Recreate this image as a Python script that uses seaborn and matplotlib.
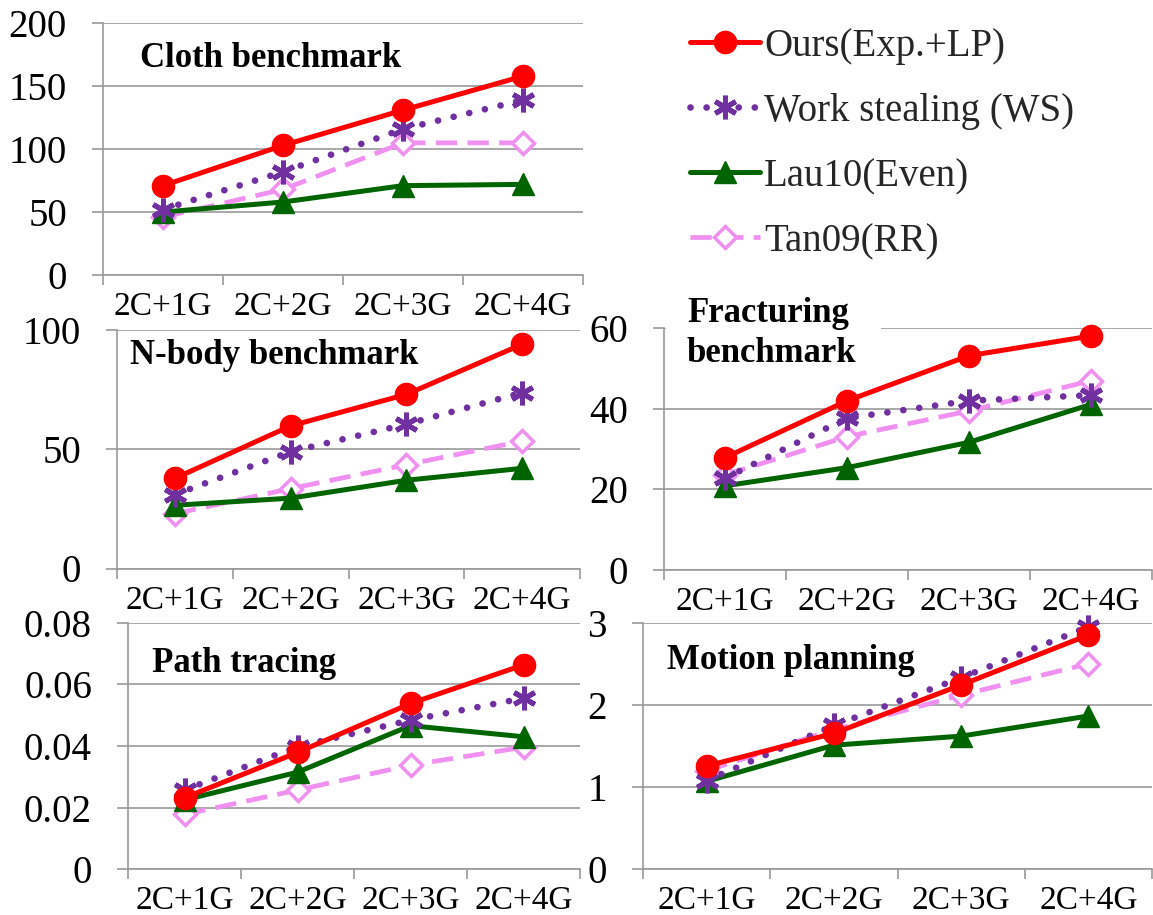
import numpy as np
import pandas as pd
import matplotlib
matplotlib.use("Agg")
import matplotlib.pyplot as plt
import seaborn as sns

# ---------------- data ----------------
configs = ["2C+1G", "2C+2G", "2C+3G", "2C+4G"]
methods = ["Ours(Exp.+LP)", "Work stealing (WS)", "Lau10(Even)", "Tan09(RR)"]

cloth_ours = [71, 103, 131, 158]
cloth_ws = [52, 82, 116, 139]
cloth_lau = [50, 58, 71, 72]
cloth_tan = [46, 68, 105, 105]

nbody_ours = [37.8, 59.8, 73, 94]
nbody_ws = [31, 49, 60.5, 73.7]
nbody_lau = [26.5, 29.5, 37, 42]
nbody_tan = [23, 33.5, 43.5, 53.4]

frac_ours = [27.9, 42, 53.2, 58.1]
frac_ws = [22.8, 37.7, 42, 43.4]
frac_lau = [20.9, 25.4, 31.7, 41.1]
frac_tan = [23.6, 33.1, 39.5, 47]

path_ours = [0.0232, 0.0379, 0.0538, 0.0663]
path_ws = [0.0257, 0.0398, 0.0484, 0.0555]
path_lau = [0.0225, 0.0315, 0.0466, 0.0430]
path_tan = [0.0178, 0.0257, 0.0338, 0.0396]

motion_ours = [1.257, 1.654, 2.242, 2.85]
motion_ws = [1.08, 1.75, 2.33, 2.95]
motion_lau = [1.07, 1.51, 1.62, 1.865]
motion_tan = [1.2, 1.7, 2.12, 2.5]

titles = ["Cloth benchmark", "N-body benchmark", "Fracturing\nbenchmark",
          "Path tracing", "Motion planning"]
yticks = [[0, 50, 100, 150, 200], [0, 50, 100], [0, 20, 40, 60],
          [0, 0.02, 0.04, 0.06, 0.08], [0, 1, 2, 3]]
ytick_labels = [["0", "50", "100", "150", "200"], ["0", "50", "100"],
                ["0", "20", "40", "60"],
                ["0", "0.02", "0.04", "0.06", "0.08"], ["0", "1", "2", "3"]]

panels = [
    [cloth_ours, cloth_ws, cloth_lau, cloth_tan],
    [nbody_ours, nbody_ws, nbody_lau, nbody_tan],
    [frac_ours, frac_ws, frac_lau, frac_tan],
    [path_ours, path_ws, path_lau, path_tan],
    [motion_ours, motion_ws, motion_lau, motion_tan],
]

# ---------------- style ----------------
sns.set_theme(style="white")
plt.rcParams["font.family"] = ["Liberation Serif", "DejaVu Serif"]

W, H = 1153, 915
fig = plt.figure(figsize=(W / 100, H / 100), dpi=100)

def axpos(l, r, t, b):
    return [l / W, 1 - b / H, (r - l) / W, (b - t) / H]

# pixel boxes (left, right, top, bottom)
boxes = [
    (103, 583, 23.3, 275),
    (117, 580, 330, 568.5),
    (664, 1152, 328.3, 570),
    (128, 580, 622.7, 869.3),
    (643, 1152, 622.7, 869.3),
]
# title positions: (x px, baseline y px)
title_pos = [(140, 67), (130, 364), (687, 322), (152, 672), (667, 669)]

GRID = "#9a9a9a"
styles = {
    "Ours(Exp.+LP)": dict(color="#FF0000", lw=3.6, marker="o", ms=16,
                          markeredgecolor="#FF0000", markeredgewidth=1,
                          linestyle="-"),
    "Work stealing (WS)": dict(color="#7030A0", lw=4.8, marker=(6, 2, 0), ms=17,
                               markeredgecolor="#7030A0", markeredgewidth=3.6,
                               linestyle=(0, (0.01, 2.4)),
                               dash_capstyle="round"),
    "Lau10(Even)": dict(color="#006400", lw=3.6, marker="^", ms=16,
                        markeredgecolor="#006400", markeredgewidth=1,
                        linestyle="-"),
    "Tan09(RR)": dict(color="#F090F0", lw=3.4, marker="D", ms=11,
                      markeredgecolor="#F090F0", markeredgewidth=2.5,
                      markerfacecolor="white",
                      linestyle=(0, (4.5, 2.2))),
}
draw_order = [3, 2, 1, 0]

xpos = np.arange(len(configs))
legend_handles = {}

for i, (box, vals) in enumerate(zip(boxes, panels)):
    ax = fig.add_axes(axpos(*box))
    ax.set_facecolor("white")
    for k in draw_order:
        name = methods[k]
        df = pd.DataFrame({"x": xpos, "y": vals[k]})
        sns.lineplot(data=df, x="x", y="y", ax=ax, sort=False,
                     legend=False, clip_on=False, zorder=3,
                     **styles[name])
        legend_handles[name] = ax.lines[-1]
    ax.set_xlim(-0.5, 3.5)
    ax.set_ylim(yticks[i][0], yticks[i][-1])
    ax.set_yticks(yticks[i])
    ax.set_yticklabels(ytick_labels[i])
    ax.set_xticks(xpos)
    ax.set_xticklabels(configs)
    ax.set_xticks(np.arange(-0.5, 4.0, 1.0), minor=True)
    ax.set_xlabel("")
    ax.set_ylabel("")
    ax.grid(axis="y", color=GRID, lw=1.2, zorder=0)
    ax.grid(axis="x", visible=False)
    ax.set_axisbelow(True)
    for s in ["top", "right"]:
        ax.spines[s].set_visible(False)
    for s in ["left", "bottom"]:
        ax.spines[s].set_color(GRID)
        ax.spines[s].set_linewidth(1.2)
    ax.tick_params(axis="y", which="major", direction="out", length=8,
                   width=1.2, color=GRID, pad=18, labelsize=28, left=True)
    ax.tick_params(axis="x", which="major", length=0, pad=12, labelsize=24,
                   bottom=True)
    ax.tick_params(axis="x", which="minor", direction="out", length=7,
                   width=1.2, color=GRID, bottom=True)
    for lab in ax.get_xticklabels() + ax.get_yticklabels():
        lab.set_color("black")

    tx, ty = title_pos[i]
    kw = dict(fontsize=25, fontweight="bold", ha="left", va="baseline",
              color="black", zorder=10)
    if i == 2:
        lines = titles[i].split("\n")
        fig.patches.append(plt.Rectangle((666 / W, 1 - 365 / H), 215 / W, 70 / H,
                                         transform=fig.transFigure,
                                         facecolor="white", edgecolor="none",
                                         zorder=5))
        fig.text(tx / W, 1 - ty / H, lines[0], **kw)
        fig.text(tx / W, 1 - 362 / H, lines[1], **kw)
    else:
        fig.text(tx / W, 1 - ty / H, titles[i], **kw)

handles = [legend_handles[m] for m in methods]
leg = fig.legend(handles, methods, loc="upper left",
                 bbox_to_anchor=(690 / W, 1 - 28 / H),
                 frameon=False, fontsize=28, handlelength=1.8,
                 handletextpad=0.1, labelspacing=0.72, numpoints=1,
                 borderaxespad=0, borderpad=0)

fig.savefig("out.png", dpi=100, facecolor="white")
